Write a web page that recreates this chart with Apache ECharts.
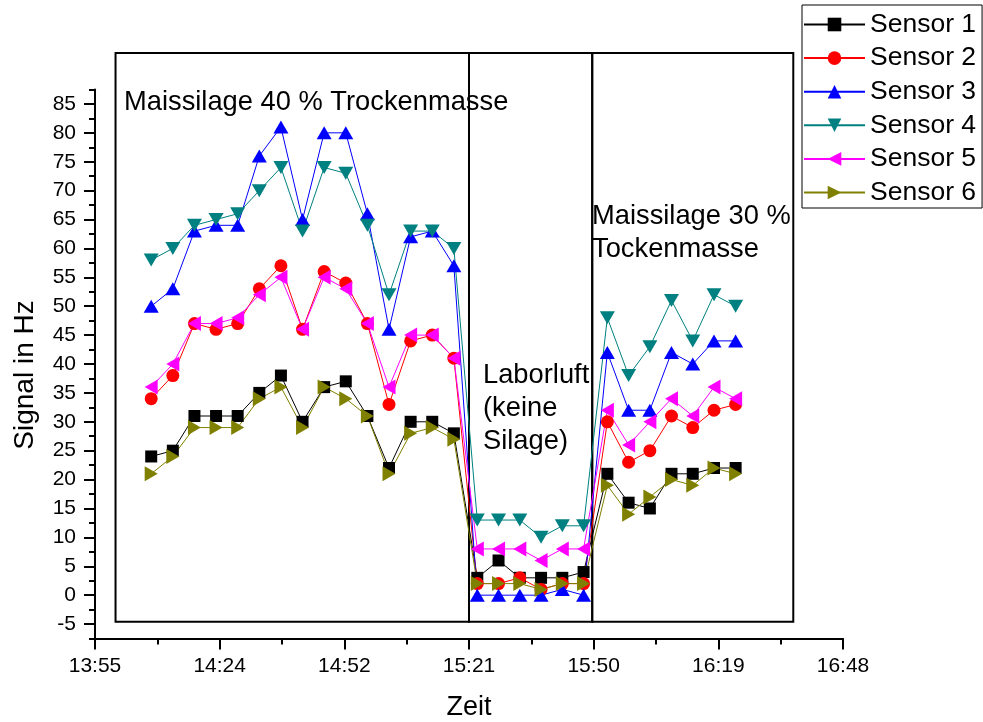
<!DOCTYPE html>
<html>
<head>
<meta charset="utf-8">
<script src="https://cdn.jsdelivr.net/npm/echarts@6/dist/echarts.min.js"></script>
<style>
  html, body { margin: 0; padding: 0; background: #ffffff; }
  #chart { width: 983px; height: 722px; }
</style>
</head>
<body>
<div id="chart"></div>
<script>
// Sampling times (clock time) of the measurements
const sampleTimes = [
  '14:08:00', '14:13:00', '14:18:00', '14:23:00', '14:28:00', '14:33:00', '14:38:00', '14:43:00',
  '14:48:00', '14:53:00', '14:58:00', '15:03:00', '15:08:00', '15:13:00', '15:18:00',
  '15:23:25', '15:28:20', '15:33:15', '15:38:10', '15:43:05', '15:48:00',
  '15:53:30', '15:58:25', '16:03:20', '16:08:20', '16:13:15', '16:18:10', '16:23:10'
];

const sensorNames = ['Sensor 1', 'Sensor 2', 'Sensor 3', 'Sensor 4', 'Sensor 5', 'Sensor 6'];

// Signal in Hz per sensor
const sensor1 = [24, 25, 31, 31, 31, 35, 38, 30, 36, 37, 31, 22, 30, 30, 28, 3, 6, 3, 3, 3, 4, 21, 16, 15, 21, 21, 22, 22];
const sensor2 = [34, 38, 47, 46, 47, 53, 57, 46, 56, 54, 47, 33, 44, 45, 41, 2, 2, 3, 1, 2, 2, 30, 23, 25, 31, 29, 32, 33];
const sensor3 = [50, 53, 63, 64, 64, 76, 81, 65, 80, 80, 66, 46, 62, 63, 57, 0, 0, 0, 0, 1, 0, 42, 32, 32, 42, 40, 44, 44];
const sensor4 = [58, 60, 64, 65, 66, 70, 74, 63, 74, 73, 64, 52, 63, 63, 60, 13, 13, 13, 10, 12, 12, 48, 38, 43, 51, 44, 52, 50];
const sensor5 = [36, 40, 47, 47, 48, 52, 55, 46, 55, 53, 47, 36, 45, 45, 41, 8, 8, 8, 6, 8, 8, 32, 26, 30, 34, 31, 36, 34];
const sensor6 = [21, 24, 29, 29, 29, 34, 36, 29, 36, 34, 31, 21, 28, 29, 27, 2, 2, 2, 1, 2, 2, 19, 14, 17, 20, 19, 22, 21];

// Axis tick labels
const timeTickLabels = ['13:55', '14:24', '14:52', '15:21', '15:50', '16:19', '16:48'];
const signalTickLabels = [-5, 0, 5, 10, 15, 20, 25, 30, 35, 40, 45, 50, 55, 60, 65, 70, 75, 80, 85];

// Phase boundaries (clock time) of the three measurement phases
const phaseBounds = ['13:59:45', '15:21:30', '15:50:00', '16:36:30'];
const phaseLabels = ['Maissilage 40 % Trockenmasse', 'Laborluft\n(keine\nSilage)', 'Maissilage 30 %\nTockenmasse'];

function toMinutes(t) {
  const p = t.split(':').map(Number);
  return p[0] * 60 + p[1] + (p[2] || 0) / 60;
}

const FONT = '"Liberation Sans", Arial, Helvetica, sans-serif';
const xMin = toMinutes(timeTickLabels[0]);
const xMax = toMinutes(timeTickLabels[timeTickLabels.length - 1]);
const xStep = (xMax - xMin) / (timeTickLabels.length - 1);
const xMajor = timeTickLabels.map((_, i) => xMin + i * xStep);
const xMinor = timeTickLabels.slice(1).map((_, i) => xMin + (i + 0.5) * xStep);

const yMin = -7.5, yMax = 87.5;
const yMinor = [];
for (let v = yMin; v <= yMax + 1e-9; v += 5) yMinor.push(v);

const sensorValues = [sensor1, sensor2, sensor3, sensor4, sensor5, sensor6];
const colors = ['#000000', '#ff0000', '#0000ff', '#008080', '#ff00ff', '#808000'];
const symbols = [
  'rect',
  'circle',
  'path://M5,0L10,10L0,10Z',
  'path://M0,0L10,0L5,10Z',
  'path://M10,0L10,10L0,5Z',
  'path://M0,0L10,5L0,10Z'
];
const symbolSizes = [12, 13, [15, 13], [15, 13], [13, 15], [13, 15]];

const series = sensorNames.map((name, k) => ({
  name: name,
  type: 'line',
  xAxisIndex: 0,
  yAxisIndex: 0,
  data: sampleTimes.map((t, i) => [toMinutes(t), sensorValues[k][i]]),
  symbol: symbols[k],
  symbolSize: symbolSizes[k],
  showAllSymbol: true,
  clip: false,
  lineStyle: { color: colors[k], width: 1 },
  itemStyle: { color: colors[k] },
  emphasis: { disabled: true },
  z: 3
}));

const chart = echarts.init(document.getElementById('chart'), null, { renderer: 'canvas' });

const tickStyle = { color: '#000000', width: 2 };

const option = {
  animation: false,
  backgroundColor: '#ffffff',
  textStyle: { fontFamily: FONT },
  grid: { left: 95, right: 140, top: 89.5, bottom: 83.5, containLabel: false, outerBoundsMode: 'none' },
  legend: {
    orient: 'vertical',
    left: 802,
    top: 5,
    padding: [6, 6, 2, 1],
    itemWidth: 61,
    itemHeight: 17,
    itemGap: 6.6,
    borderColor: '#000000',
    borderWidth: 1,
    backgroundColor: '#ffffff',
    selectedMode: false,
    textStyle: { fontFamily: FONT, fontSize: 26.5, color: '#000000', lineHeight: 27 },
    data: sensorNames
  },
  xAxis: [
    {
      type: 'value',
      min: xMin,
      max: xMax,
      position: 'bottom',
      name: 'Zeit',
      nameLocation: 'middle',
      nameGap: 56,
      nameTextStyle: { fontFamily: FONT, fontSize: 27, color: '#000000' },
      axisLine: { show: true, onZero: false, lineStyle: tickStyle },
      axisTick: { show: true, customValues: xMajor, length: 11, lineStyle: tickStyle },
      axisLabel: {
        customValues: xMajor,
        margin: 17,
        fontFamily: FONT,
        fontSize: 21,
        color: '#000000',
        formatter: v => timeTickLabels[Math.round((v - xMin) / xStep)]
      },
      splitLine: { show: false }
    },
    {
      type: 'value',
      min: xMin,
      max: xMax,
      position: 'bottom',
      axisLine: { show: false, onZero: false },
      axisTick: { show: true, customValues: xMinor, length: 6, lineStyle: tickStyle },
      axisLabel: { show: false },
      splitLine: { show: false }
    }
  ],
  yAxis: [
    {
      type: 'value',
      min: yMin,
      max: yMax,
      position: 'left',
      axisLine: { show: true, onZero: false, lineStyle: tickStyle },
      axisTick: { show: true, customValues: signalTickLabels, length: 11, lineStyle: tickStyle },
      axisLabel: {
        customValues: signalTickLabels,
        margin: 19,
        fontFamily: FONT,
        fontSize: 21,
        color: '#000000'
      },
      splitLine: { show: false }
    },
    {
      type: 'value',
      min: yMin,
      max: yMax,
      position: 'left',
      axisLine: { show: false, onZero: false },
      axisTick: { show: true, customValues: yMinor, length: 6, lineStyle: tickStyle },
      axisLabel: { show: false },
      splitLine: { show: false }
    }
  ],
  series: series
};

chart.setOption(option);

// Phase frames and their captions, placed in data coordinates
const boxLow = -4.6, boxHigh = 93.8;
const frames = [];
for (let i = 0; i < phaseBounds.length - 1; i++) {
  const p0 = chart.convertToPixel({ gridIndex: 0 }, [toMinutes(phaseBounds[i]), boxHigh]);
  const p1 = chart.convertToPixel({ gridIndex: 0 }, [toMinutes(phaseBounds[i + 1]), boxLow]);
  frames.push({
    type: 'rect',
    z: 1,
    silent: true,
    shape: { x: p0[0], y: p0[1], width: p1[0] - p0[0], height: p1[1] - p0[1] },
    style: { fill: 'none', stroke: '#000000', lineWidth: 2 }
  });
}

const captionStyle = { fontFamily: FONT, fontSize: 27.3, fill: '#000000', lineHeight: 33 };
const captions = [
  { x: 124, y: 86, text: phaseLabels[0] },
  { x: 483, y: 359, text: phaseLabels[1] },
  { x: 592, y: 200, text: phaseLabels[2] }
].map(c => ({
  type: 'text',
  z: 4,
  silent: true,
  x: c.x,
  y: c.y,
  style: Object.assign({ text: c.text, align: 'left', verticalAlign: 'top' }, captionStyle)
}));

const yTitle = {
  type: 'text',
  z: 4,
  silent: true,
  x: 25,
  y: 375,
  rotation: Math.PI / 2,
  style: { text: 'Signal in Hz', fontFamily: FONT, fontSize: 28, fill: '#000000', align: 'center', verticalAlign: 'middle' }
};

chart.setOption({ graphic: frames.concat(captions, [yTitle]) });
</script>
</body>
</html>
